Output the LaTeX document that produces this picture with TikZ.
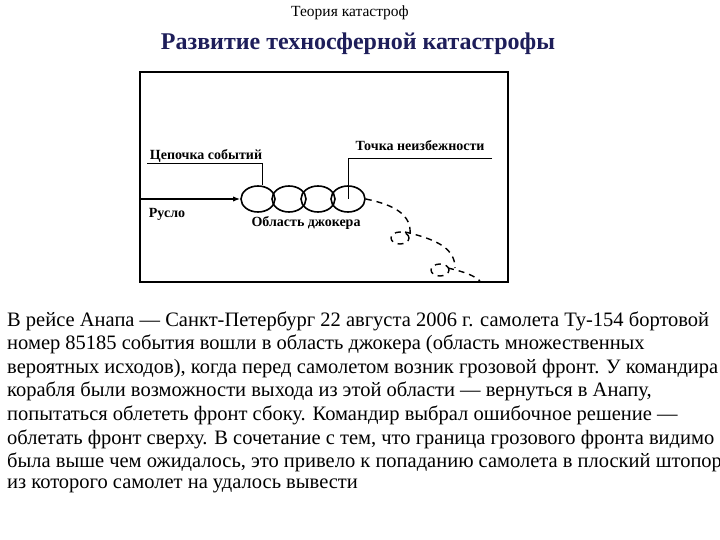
\documentclass[tikz,border=0pt]{standalone}
\usepackage{fontspec}
\setmainfont{Liberation Serif}
\usetikzlibrary{arrows.meta,shapes.geometric}
\definecolor{navy}{RGB}{30,30,90}
\begin{document}
\begin{tikzpicture}[x=1pt,y=-1pt,
  lab/.style={font=\fontsize{14}{16}\selectfont\bfseries, inner sep=0pt},
  ring/.style={draw, line width=1.6pt, ellipse, minimum width=34pt, minimum height=26pt, inner sep=0pt},
  body/.style={anchor=west, inner sep=0pt, font=\fontsize{20.5}{24}\selectfont},
  dashline/.style={line width=1.4pt, dash pattern=on 6pt off 5pt}]
\useasboundingbox (0,0) rectangle (720,540);
\node (t1) at (350,13) {\fontsize{15.5}{18}\selectfont Теория катастроф};
\node (t2) at (358,44) {\fontsize{24}{28}\selectfont\bfseries\color{navy}Развитие техносферной катастрофы};
\draw[line width=2pt] (140,72) rectangle (508,282);
\node[ring] (e1) at (258,199) {};
\node[ring] (e2) at (289,199) {};
\node[ring] (e3) at (318,199) {};
\node[ring] (e4) at (348,199) {};
\coordinate (s) at (141,199);
\draw[line width=1.6pt, -{Latex[length=7pt]}] (s) -- (e1.west);
\node[lab] (ce) at (206,156) {Цепочка событий};
\coordinate (c1) at (147,164); \coordinate (c2) at (262,164);
\draw[line width=1pt] (c1) -- (c2) -- (e1.north -| c2);
\node[lab] (tn) at (420,146) {Точка неизбежности};
\coordinate (d1) at (348,159); \coordinate (d2) at (492,159);
\draw[line width=1pt] (d2) -- (d1) -- (e4.center);
\node[lab] (ru) at (167,214) {Русло};
\node[lab] (oj) at (306,223) {Область джокера};
\draw[dashline] (e4.east) .. controls (395,205) and (412,215) .. (410,235);
\draw[dashline] (400,238) ellipse (9pt and 6pt);
\draw[dashline] (405,232) .. controls (440,240) and (455,250) .. (455,268);
\draw[dashline] (440,270) ellipse (9pt and 6pt);
\draw[dashline] (448,268) .. controls (465,272) and (475,276) .. (480,281);
\foreach \i/\t in {0/{В рейсе Анапа — Санкт-Петербург 22 августа 2006 г. самолета Ту-154 бортовой},
 1/{номер 85185 события вошли в область джокера (область множественных},
 2/{вероятных исходов), когда перед самолетом возник грозовой фронт. У командира},
 3/{корабля были возможности выхода из этой области — вернуться в Анапу,},
 4/{попытаться облететь фронт сбоку. Командир выбрал ошибочное решение —},
 5/{облетать фронт сверху. В сочетание с тем, что граница грозового фронта видимо},
 6/{была выше чем ожидалось, это привело к попаданию самолета в плоский штопор,},
 7/{из которого самолет на удалось вывести}}
  \node[body] (b\i) at (7,{321+23.6*\i}) {\t};
\end{tikzpicture}
\end{document}
